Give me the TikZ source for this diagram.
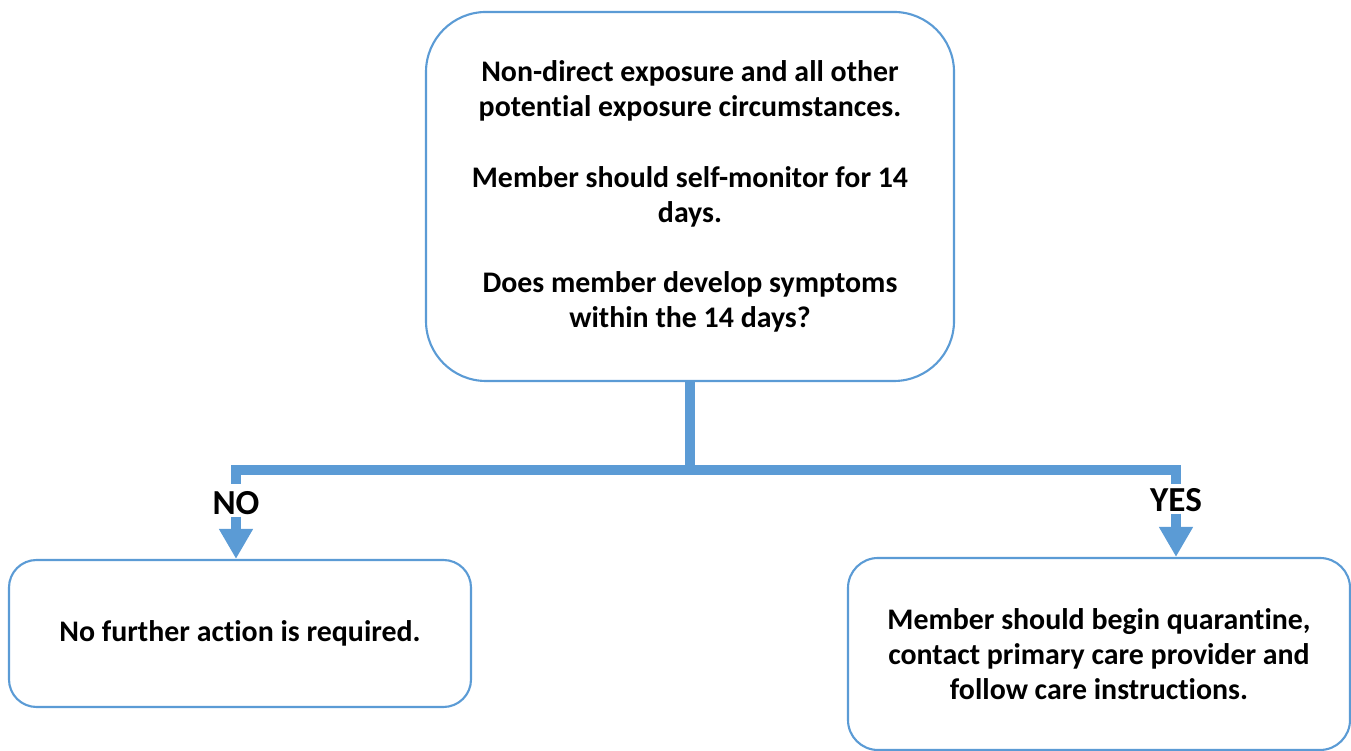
\documentclass[tikz,border=0pt]{standalone}
\usepackage{fontspec}
\setmainfont{Carlito}[Ligatures=NoCommon]
\usetikzlibrary{arrows.meta,positioning}
\definecolor{flowblue}{RGB}{91,155,213}
\tikzset{
    box/.style = {draw=flowblue, line width=1.2pt, align=center,
        font=\bfseries\fontsize{17}{20}\selectfont},
    branch/.style = {draw=flowblue, line width=5.2pt},
    answer/.style = {font=\bfseries\fontsize{20}{22}\selectfont, inner sep=1pt},
}
\begin{document}
\begin{tikzpicture}[>={Triangle[width=0.64cm,length=0.6cm]}]
		\useasboundingbox (0,0) rectangle (27.02,15.02);
		% question box
		\node [box, rounded corners=1.2cm, minimum width=10.56cm, minimum height=7.38cm] (question) at (13.8,11.09)
			{Non-direct exposure and all other\\potential exposure circumstances.\\[20pt]
			 Member should self-monitor for 14\\days.\\[20pt]
			 Does member develop symptoms\\within the 14 days?};
		
		% outcome boxes
		\node [box, rounded corners=0.55cm, minimum width=9.24cm, minimum height=2.94cm] (noBox) at (4.8,2.35)
			{No further action is required.};
		\node [box, rounded corners=0.6cm, minimum width=10.04cm, minimum height=3.84cm] (yesBox) at (21.98,1.94)
			{Member should begin quarantine,\\contact primary care provider and\\follow care instructions.};
		
		% split points
		\coordinate (split) at (13.8,5.62);
		\coordinate (noTurn) at (4.72,5.62);
		\coordinate (yesTurn) at (23.52,5.62);
		\coordinate [below=0.28cm of noTurn] (noEnd);
		\coordinate [below=0.28cm of yesTurn] (yesEnd);
		
		\node [answer] (no) at (4.72,4.96) {NO};
		\node [answer] (yes) at (23.52,5.02) {YES};
		
		%% connecting lines
		\draw [branch] (question.south) -- (split);
		\draw [branch] (noEnd) -- (noTurn) -- (yesTurn) -- (yesEnd);
		\draw [branch, ->] (no.south) -- (no.south |- noBox.north);
		\draw [branch, ->] (yes.south) -- (yes.south |- yesBox.north);
	\end{tikzpicture}
\end{document}
